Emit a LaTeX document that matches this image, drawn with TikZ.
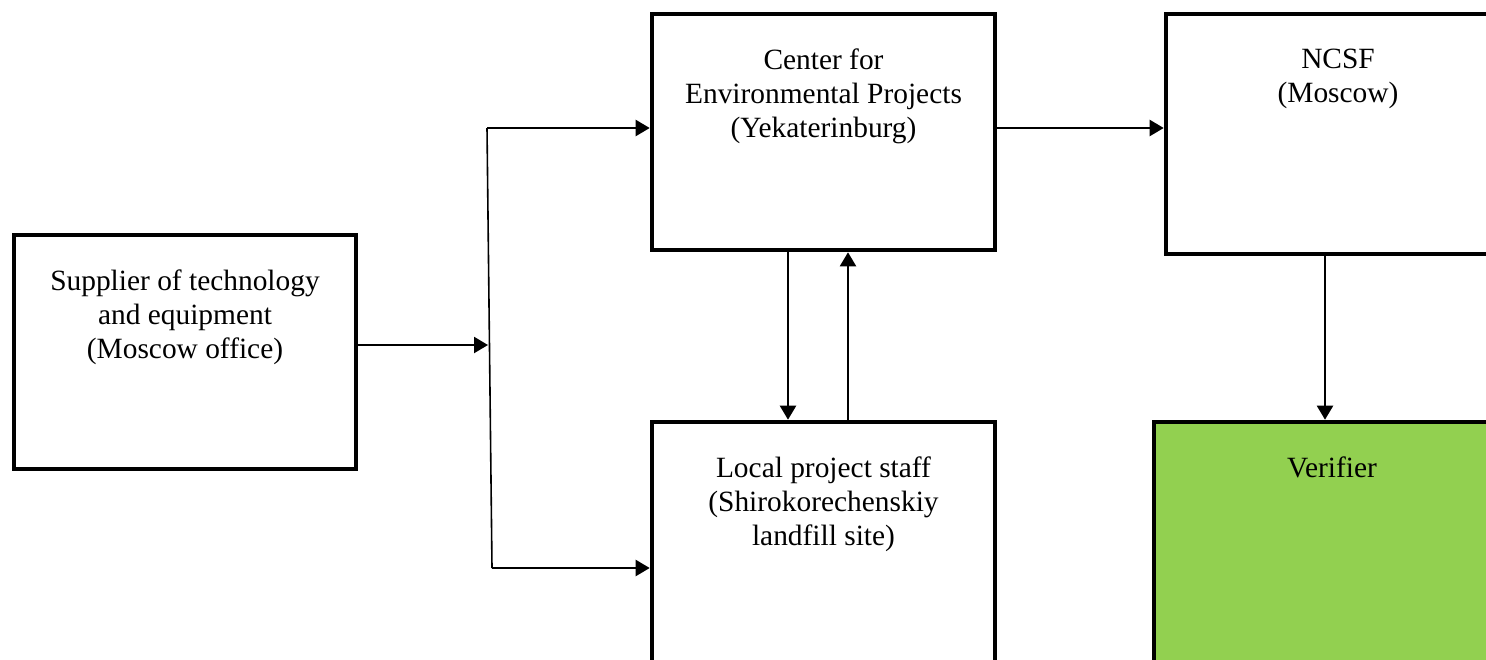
\documentclass[tikz,border=0pt]{standalone}
\usepackage{fontspec}
\setmainfont{Liberation Serif}
\usetikzlibrary{arrows.meta,positioning,calc}
\definecolor{vgreen}{RGB}{146,208,80}

\begin{document}
\begin{tikzpicture}[x=0.5pt,y=-0.5pt,
  box/.style={draw,line width=2.3pt,inner sep=0pt},
  txt/.style={align=center,inner sep=0pt,font=\fontsize{14.7}{17}\selectfont},
  arr/.style={line width=1.1pt,-{Triangle[length=7pt,width=8pt]}}]
\useasboundingbox (0,0) rectangle (1486,659);
\clip (0,0) rectangle (1486,659);
% boxes
\node[box,minimum width=171pt,minimum height=117pt] (sup) at (185,352) {};
\node[box,minimum width=171.5pt,minimum height=118pt] (cen) at (823.5,132) {};
\node[box,minimum width=171.5pt,minimum height=129pt] (loc) at (823.5,551) {};
\node[box,minimum width=172pt,minimum height=120pt] (ncsf) at (1338,134) {};
\node[box,fill=vgreen,minimum width=178pt,minimum height=129pt] (ver) at (1332,551) {};
% texts
\node[txt,below=18.5pt of sup.north] (sup-t) {Supplier of technology\\and equipment\\(Moscow office)};
\node[txt,below=18.5pt of cen.north] (cen-t) {Center for\\Environmental Projects\\(Yekaterinburg)};
\node[txt,below=18.5pt of loc.north] (loc-t) {Local project staff\\(Shirokorechenskiy\\landfill site)};
\node[txt,below=18.5pt of ncsf.north] (ncsf-t) {NCSF\\(Moscow)};
\node[txt,below=18.5pt of ver.north] (ver-t) {Verifier};
% connectors
\coordinate (j) at (488,345);
\coordinate (jt) at (487,128);
\coordinate (jb) at (492,568);
\coordinate (nv) at (1325,254);
\draw[arr] (sup.east |- j) -- (j);
\draw[line width=0.8pt] (jt) -- (jb);
\draw[arr] (jt) -- (jt -| cen.west);
\draw[arr] (jb) -- (jb -| loc.west);
\draw[arr] (cen.east |- jt) -- (ncsf.west |- jt);
\draw[arr] ($(cen.south)+(-35.5,0)$) -- ($(loc.north)+(-35.5,0)$);
\draw[arr] ($(loc.north)+(24.5,0)$) -- ($(cen.south)+(24.5,0)$);
\draw[arr] (nv) -- (nv |- ver.north);
\end{tikzpicture}
\end{document}
